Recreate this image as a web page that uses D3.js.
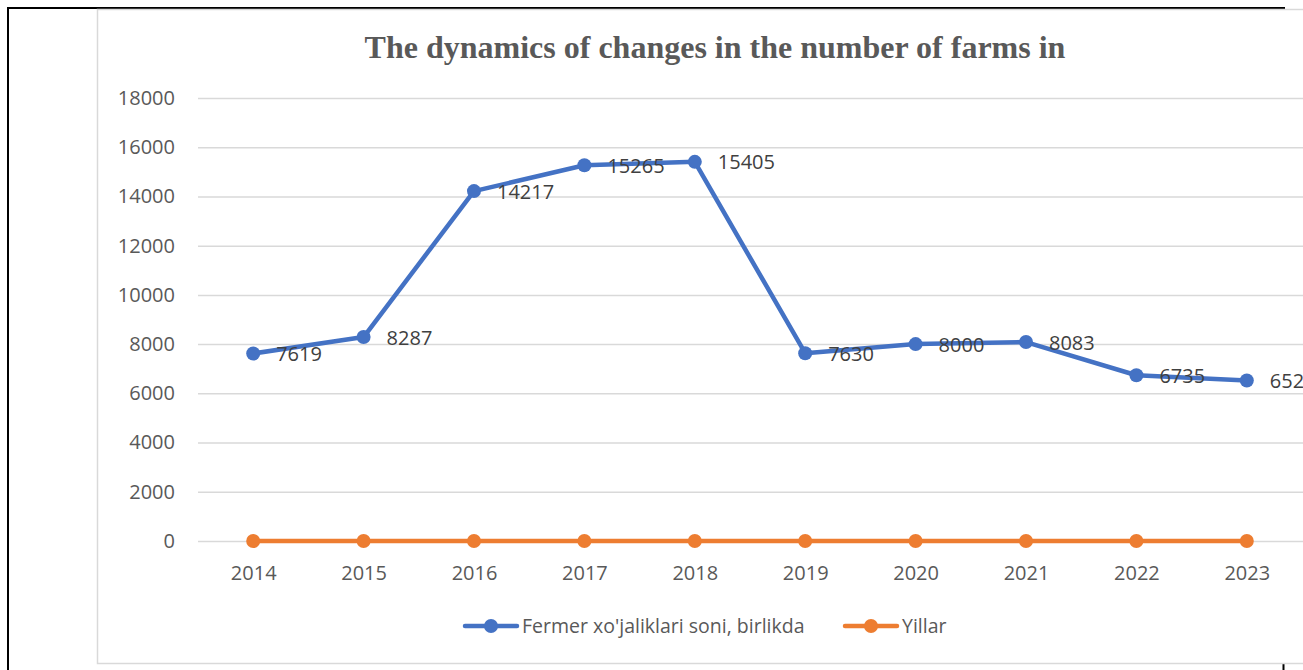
<!DOCTYPE html>
<html>
<head>
<meta charset="utf-8">
<script src="https://cdn.jsdelivr.net/npm/d3@7"></script>
<style>
  body { margin: 0; background: #fff; overflow: hidden; }
  svg { display: block; }
</style>
</head>
<body>
<svg id="chart"></svg>
<script>
// data
const years = ["2014", "2015", "2016", "2017", "2018", "2019", "2020", "2021", "2022", "2023"];
const farms = [7619, 8287, 14217, 15265, 15405, 7630, 8000, 8083, 6735, 6520];
const yillar = [0, 0, 0, 0, 0, 0, 0, 0, 0, 0];
const yTicks = [0, 2000, 4000, 6000, 8000, 10000, 12000, 14000, 16000, 18000];
const seriesNames = ["Fermer xo'jaliklari soni, birlikda", "Yillar"];
const title = "The dynamics of changes in the number of farms in";

const W = 1303, H = 670;
const blue = "#4472C4", orange = "#ED7D31";
const font = "'Open Sans', 'Noto Sans', sans-serif";

const svg = d3.select("#chart").attr("width", W).attr("height", H);

// outer page frame (black)
svg.append("line").attr("x1", 8).attr("x2", 8).attr("y1", 7).attr("y2", H)
    .attr("stroke", "#000").attr("stroke-width", 2);
svg.append("line").attr("x1", 7).attr("x2", 1285).attr("y1", 8).attr("y2", 8)
    .attr("stroke", "#000").attr("stroke-width", 2);
svg.append("line").attr("x1", 1283.5).attr("x2", 1283.5).attr("y1", 664).attr("y2", H)
    .attr("stroke", "#000").attr("stroke-width", 2);

// chart area border
svg.append("rect").attr("x", 97.5).attr("y", 9.5).attr("width", 1300).attr("height", 654)
    .attr("fill", "#fff").attr("stroke", "#d9d9d9").attr("stroke-width", 1.5);

// title
svg.append("text")
    .attr("x", 715).attr("y", 58)
    .attr("text-anchor", "middle")
    .style("font-family", "'Liberation Serif', 'Times New Roman', serif")
    .style("font-weight", "bold")
    .style("font-size", "32px")
    .attr("fill", "#595959")
    .text(title);

// scales
const x = d3.scalePoint().domain(years).range([198, 1302]).padding(0.5);
const y = d3.scaleLinear().domain([0, 18000]).range([541, 98]);

// gridlines + y axis
const yAxis = svg.append("g")
    .attr("transform", "translate(198,0)")
    .call(d3.axisLeft(y).tickValues(yTicks).tickSize(-1110).tickPadding(23).tickFormat(d3.format("d")));
yAxis.select(".domain").remove();
yAxis.selectAll(".tick line").attr("stroke", "#d9d9d9").attr("stroke-width", 1.5);
yAxis.selectAll(".tick text")
    .attr("fill", "#595959")
    .style("font-family", font)
    .style("font-size", "20px");

// x axis labels
const xAxis = svg.append("g")
    .attr("transform", "translate(0,541)")
    .call(d3.axisBottom(x).tickSize(0).tickPadding(25));
xAxis.select(".domain").remove();
xAxis.selectAll(".tick text")
    .attr("fill", "#595959")
    .style("font-family", font)
    .style("font-size", "20px");

const line = d3.line().x((d, i) => x(years[i])).y(d => y(d));

function drawSeries(vals, color) {
    svg.append("path").datum(vals)
        .attr("d", line)
        .attr("fill", "none")
        .attr("stroke", color)
        .attr("stroke-width", 4.5)
        .attr("stroke-linejoin", "round")
        .attr("stroke-linecap", "round");
    svg.append("g").selectAll("circle").data(vals).enter()
        .append("circle")
        .attr("cx", (d, i) => x(years[i]))
        .attr("cy", d => y(d))
        .attr("r", 7)
        .attr("fill", color);
}

drawSeries(yillar, orange);
drawSeries(farms, blue);

// data labels for farms series
svg.append("g").selectAll("text").data(farms).enter()
    .append("text")
    .attr("x", (d, i) => x(years[i]) + 23)
    .attr("y", d => y(d))
    .attr("dy", "0.38em")
    .attr("fill", "#404040")
    .style("font-family", font)
    .style("font-size", "20px")
    .text(d => d);

// legend
const legend = svg.append("g").attr("transform", "translate(0,626)");
const legendX = [465, 845];
[blue, orange].forEach((c, i) => {
    const g = legend.append("g").attr("transform", `translate(${legendX[i]},0)`);
    g.append("line").attr("x1", 0).attr("x2", 52).attr("y1", 0).attr("y2", 0)
        .attr("stroke", c).attr("stroke-width", 4.5).attr("stroke-linecap", "round");
    g.append("circle").attr("cx", 26).attr("cy", 0).attr("r", 7).attr("fill", c);
    g.append("text").attr("x", 57).attr("y", 0).attr("dy", "0.36em")
        .attr("fill", "#595959")
        .style("font-family", font)
        .style("font-size", "19.5px")
        .text(seriesNames[i]);
});
</script>
</body>
</html>
